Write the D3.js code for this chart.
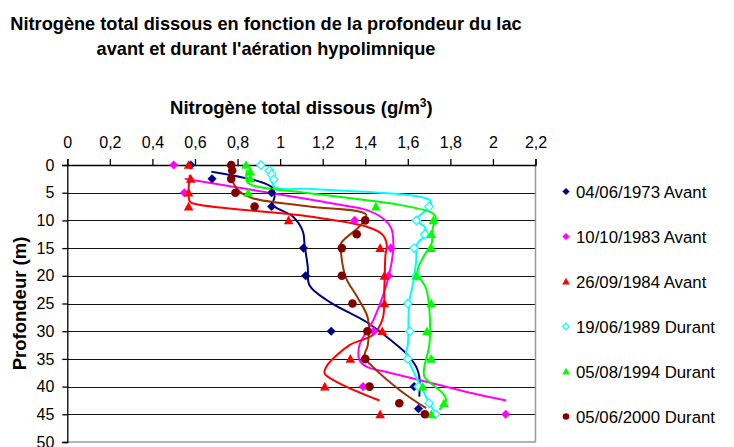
<!DOCTYPE html>
<html><head><meta charset="utf-8">
<script src="https://cdn.jsdelivr.net/npm/d3@7"></script>
<style>body{margin:0;background:#fff}svg{display:block;font-family:"Liberation Sans",Arial,sans-serif}</style>
</head><body>
<svg id="c" width="734" height="447"></svg>
<script>
const titleLines = ["Nitrogène total dissous en fonction de la profondeur du lac", "avant et durant l'aération hypolimnique"];
const xTicks = [0,0.2,0.4,0.6,0.8,1,1.2,1.4,1.6,1.8,2,2.2];
const yTicks = [0,5,10,15,20,25,30,35,40,45,50];
const seriesNames = ["04/06/1973 Avant","10/10/1983 Avant","26/09/1984 Avant","19/06/1989 Durant","05/08/1994 Durant","05/06/2000 Durant"];

// measured points: [value g/m3, depth m]
const pts1973 = [[0.58,0],[0.68,2.5],[0.96,5],[0.96,7.5],[1.11,15],[1.12,20],[1.24,30],[1.63,40],[1.65,44]];
const pts1983 = [[0.50,0],[0.55,5],[1.35,10],[1.52,15],[1.51,20],[1.44,30],[1.40,35],[1.39,40],[2.06,45]];
const pts1984 = [[0.57,0],[0.58,2.5],[0.57,5],[0.57,7.5],[1.04,10],[1.47,15],[1.49,20],[1.49,25],[1.48,30],[1.33,35],[1.21,40],[1.47,45]];
const pts1989 = [[0.91,0],[0.95,1],[0.96,1.7],[0.97,2.6],[1.70,7.5],[1.64,10],[1.68,12.5],[1.63,15],[1.64,20],[1.60,25],[1.61,30],[1.60,35],[1.65,40],[1.70,43],[1.73,45]];
const pts1994 = [[0.84,0],[0.86,1.2],[0.86,2.4],[0.85,5],[1.45,7.5],[1.72,10],[1.71,12.5],[1.71,15],[1.64,20],[1.71,25],[1.69,30],[1.71,35],[1.67,40],[1.77,43],[1.71,45]];
const pts2000 = [[0.77,0],[0.775,1],[0.77,2.5],[0.79,5],[0.88,7.5],[1.40,10],[1.36,12.5],[1.29,15],[1.29,20],[1.34,25],[1.41,30],[1.40,35],[1.42,40],[1.56,43],[1.68,45]];

// smoothed curves: [value, depth]
const fit1973 = [[0.677,1.2],[0.904,3.0],[0.966,4.2],[0.974,5.7],[0.966,7.2],[1.06,9.3],[1.107,12.0],[1.115,14.4],[1.13,18.4],[1.138,21.7],[1.232,24.7],[1.404,28.3],[1.529,31.9],[1.592,34.0],[1.639,36.4],[1.654,38.2],[1.654,41.8]];
const fit1983 = [[0.552,2.5],[1.091,5.9],[1.30,7.3],[1.404,8.1],[1.482,9.6],[1.522,11.4],[1.532,14.4],[1.514,19.5],[1.443,27.6],[1.373,32.5],[1.373,35.2],[1.406,36.4],[1.514,37.5],[1.715,39.4],[1.903,41.2],[2.062,42.5]];
const fit1984 = [[0.576,1.8],[0.576,6.6],[0.607,7.1],[1.138,9.3],[1.404,11.1],[1.482,12.6],[1.501,14.4],[1.495,16.2],[1.49,21.7],[1.482,27.7],[1.435,30.7],[1.326,32.5],[1.217,36.4],[1.209,37.6],[1.279,39.4],[1.467,42.5]];
const fit1989 = [[0.951,0.5],[0.974,3.9],[1.138,4.3],[1.701,6.3],[1.709,7.2],[1.678,8.4],[1.639,9.9],[1.678,11.1],[1.686,12.6],[1.646,14.1],[1.639,17.5],[1.623,21.7],[1.607,24.7],[1.60,32.5],[1.592,33.9],[1.631,37.6],[1.67,40.6],[1.701,43.0],[1.725,44.5]];
const fit1994 = [[0.844,0.9],[0.844,3.0],[0.872,3.7],[1.138,5.1],[1.56,7.2],[1.717,8.7],[1.733,9.6],[1.717,11.4],[1.714,13.8],[1.709,14.4],[1.67,16.8],[1.646,19.3],[1.686,22.3],[1.701,25.9],[1.701,32.5],[1.678,36.4],[1.678,38.2],[1.764,41.2],[1.78,42.4],[1.748,44.2]];
const fit2000 = [[0.771,0],[0.771,2.3],[0.81,4.8],[0.871,6.0],[1.138,7.5],[1.404,9.0],[1.373,11.1],[1.287,14.1],[1.287,16.2],[1.31,20.4],[1.365,24.0],[1.412,27.6],[1.412,32.5],[1.396,34.6],[1.435,36.4],[1.561,40.6],[1.686,43.9]];

const markerColors = ["#000080","#FF00FF","#FF0000","#00FFFF","#00FF00","#800000"];
const lineColors   = ["#000080","#FF00FF","#FF0000","#00FFFF","#00FF00","#993300"];
const markerShapes = ["diamond","diamond","triangle","diamondOpen","triangle","circle"];

const allPts = [pts1973,pts1983,pts1984,pts1989,pts1994,pts2000];
const allFits = [fit1973,fit1983,fit1984,fit1989,fit1994,fit2000];

const svg = d3.select("#c");
const pL = 67.3, pR = 535.5, pT = 165, pB = 442;
const x = d3.scaleLinear().domain([0,2.2]).range([pL,pR]);
const y = d3.scaleLinear().domain([0,50]).range([pT,pB]);
const fmt = v => String(Math.round(v*10)/10).replace(".", ",");
const FF = "'Liberation Sans', Arial, sans-serif";

// titles
svg.append("g").selectAll("text").data(titleLines).join("text")
  .attr("x",266).attr("y",(d,i)=>30+i*25).attr("text-anchor","middle")
  .attr("font-weight","bold").attr("font-size",18.2).text(d=>d);

const at = svg.append("text").attr("x",(pL+pR)/2).attr("y",114).attr("text-anchor","middle")
  .attr("font-weight","bold").attr("font-size",18.5);
at.append("tspan").text("Nitrogène total dissous (g/m");
at.append("tspan").attr("font-size",12).attr("dy",-7).text("3");
at.append("tspan").attr("dy",7).text(")");

svg.append("text").attr("transform",`translate(26,${(pT+pB)/2}) rotate(-90)`)
  .attr("text-anchor","middle").attr("font-weight","bold").attr("font-size",18.5).text("Profondeur (m)");

// gridlines
svg.append("g").selectAll("line").data(yTicks.filter(t=>t>0&&t<50)).join("line")
  .attr("x1",pL).attr("x2",pR).attr("y1",d=>Math.round(y(d))+0.5).attr("y2",d=>Math.round(y(d))+0.5)
  .attr("stroke","#111").attr("stroke-width",1);
svg.append("line").attr("x1",pR).attr("x2",pR).attr("y1",pT).attr("y2",pB).attr("stroke","#999").attr("stroke-width",1.5);
svg.append("line").attr("x1",pL).attr("x2",pR).attr("y1",pB).attr("y2",pB).attr("stroke","#999").attr("stroke-width",1.5);

// axes
const xAxis = d3.axisTop(x).tickValues(xTicks).tickFormat(fmt).tickSizeOuter(0).tickSize(6).tickPadding(11);
const gx = svg.append("g").attr("transform",`translate(0,${pT})`).call(xAxis);
gx.selectAll("text").attr("font-size",16).attr("font-family",FF).attr("fill","#000");
gx.selectAll("line,path").attr("stroke","#000").attr("stroke-width",1.3);

const yAxis = d3.axisLeft(y).tickValues(yTicks).tickFormat(d=>d).tickSizeOuter(0).tickSize(5).tickPadding(8);
const gy = svg.append("g").attr("transform",`translate(${pL},0)`).call(yAxis);
gy.selectAll("text").attr("font-size",16).attr("font-family",FF).attr("fill","#000");
gy.selectAll("line,path").attr("stroke","#000").attr("stroke-width",1.3);

// curves
const line = d3.line().x(d=>x(d[0])).y(d=>y(d[1])).curve(d3.curveCatmullRom.alpha(0.5));
svg.append("g").selectAll("path").data(allFits).join("path")
  .attr("d",line).attr("fill","none").attr("stroke",(d,i)=>lineColors[i]).attr("stroke-width",2);

function drawMarker(g, shape, color, cx, cy, s){
  if(shape==="diamond"||shape==="diamondOpen"){
    const r = s;
    g.append("path").attr("d",`M${cx},${cy-r}L${cx+r},${cy}L${cx},${cy+r}L${cx-r},${cy}Z`)
      .attr("fill",shape==="diamond"?color:"#fff").attr("stroke",color).attr("stroke-width",shape==="diamond"?0.5:1.2);
  } else if(shape==="triangle"){
    const r = s+0.5;
    g.append("path").attr("d",`M${cx},${cy-r}L${cx+r},${cy+r*0.8}L${cx-r},${cy+r*0.8}Z`).attr("fill",color);
  } else {
    g.append("circle").attr("cx",cx).attr("cy",cy).attr("r",s).attr("fill",color);
  }
}

allPts.forEach((pts,i)=>{
  const g = svg.append("g");
  pts.forEach(p=>drawMarker(g, markerShapes[i], markerColors[i], x(p[0]), y(p[1]), 4.3));
});

// legend
const lg = svg.append("g");
seriesNames.forEach((n,i)=>{
  const cy = 191.5 + i*45;
  drawMarker(lg, markerShapes[i], markerColors[i], 566, cy, 3.3);
  lg.append("text").attr("x",576).attr("y",cy+6).attr("font-size",16.8).text(n);
});
</script>
</body></html>
